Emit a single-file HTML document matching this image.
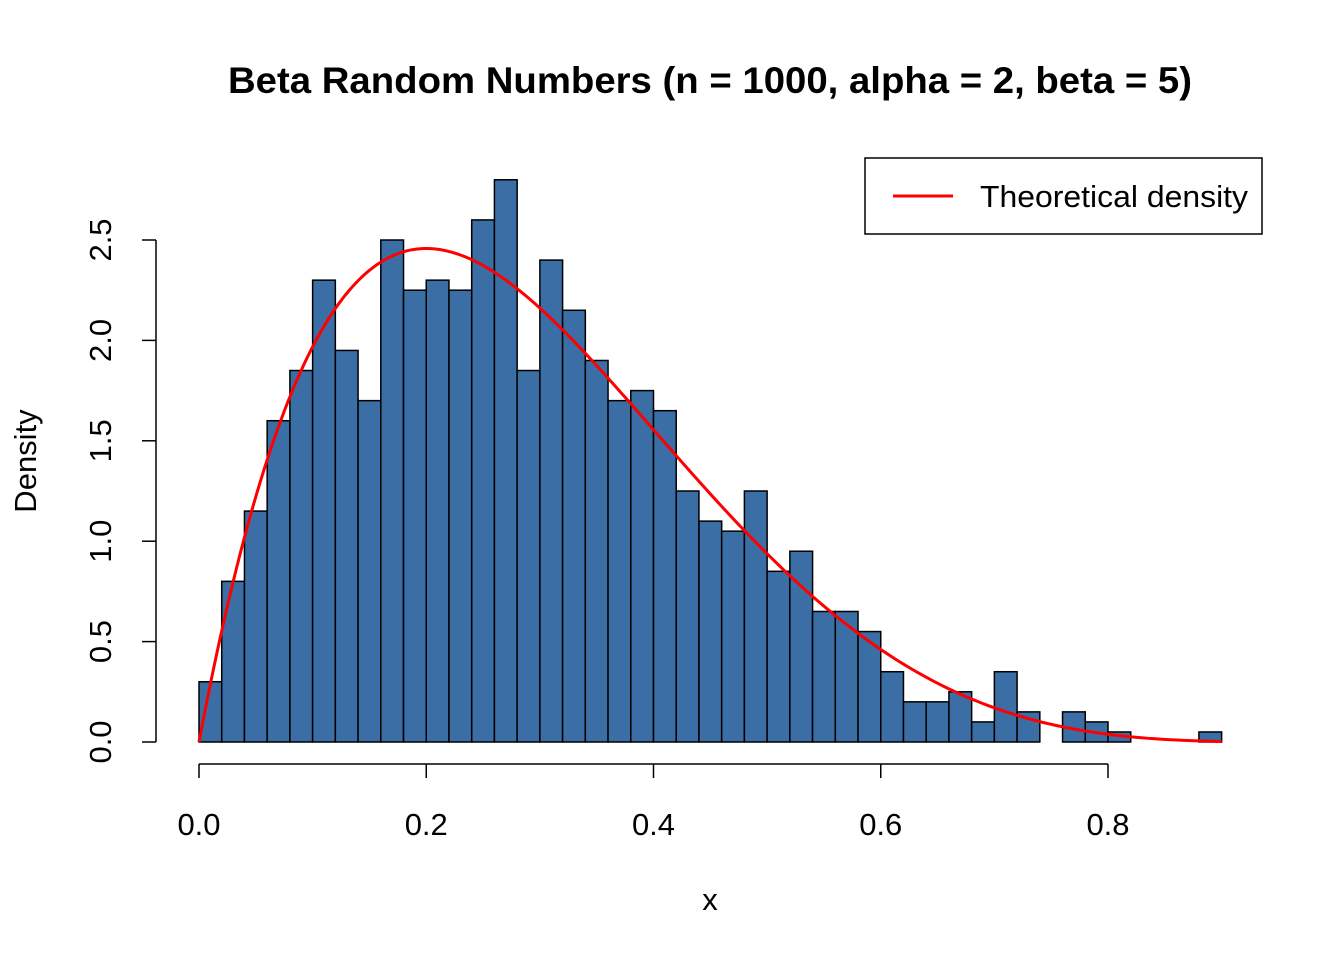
<!DOCTYPE html>
<html><head><meta charset="utf-8"><style>
html,body{margin:0;padding:0;background:#fff}
svg text{font-family:"Liberation Sans",Arial,sans-serif}
</style></head><body>
<svg id="s" width="1344" height="960" xmlns="http://www.w3.org/2000/svg">
<text x="228" y="93" font-size="37" font-weight="bold" textLength="964" lengthAdjust="spacingAndGlyphs">Beta Random Numbers (n = 1000, alpha = 2, beta = 5)</text>
<g id="bars" fill="#3a6ea5" stroke="#000" stroke-width="1.5"></g>
<polyline id="curve" fill="none" stroke="#ff0000" stroke-width="3" points=""/>
<g stroke="#000" stroke-width="1.5" fill="none">
<line x1="156" y1="742" x2="156" y2="240"/>
<line x1="142" y1="742" x2="156" y2="742"/>
<line x1="142" y1="641.6" x2="156" y2="641.6"/>
<line x1="142" y1="541.2" x2="156" y2="541.2"/>
<line x1="142" y1="440.8" x2="156" y2="440.8"/>
<line x1="142" y1="340.4" x2="156" y2="340.4"/>
<line x1="142" y1="240" x2="156" y2="240"/>
<line x1="199" y1="764" x2="1108" y2="764"/>
<line x1="199" y1="764" x2="199" y2="778"/>
<line x1="426.25" y1="764" x2="426.25" y2="778"/>
<line x1="653.5" y1="764" x2="653.5" y2="778"/>
<line x1="880.75" y1="764" x2="880.75" y2="778"/>
<line x1="1108" y1="764" x2="1108" y2="778"/>
<rect x="865" y="158" width="397" height="76"/>
</g>
<line x1="893" y1="196" x2="953" y2="196" stroke="#ff0000" stroke-width="3"/>
<text x="980" y="207" font-size="31" textLength="268" lengthAdjust="spacingAndGlyphs">Theoretical density</text>
<g font-size="31" text-anchor="middle">
<text x="199" y="835">0.0</text><text x="426.25" y="835">0.2</text><text x="653.5" y="835">0.4</text><text x="880.75" y="835">0.6</text><text x="1108" y="835">0.8</text>
<text x="710" y="910">x</text>
<text transform="translate(111,742) rotate(-90)">0.0</text>
<text transform="translate(111,641.6) rotate(-90)">0.5</text>
<text transform="translate(111,541.2) rotate(-90)">1.0</text>
<text transform="translate(111,440.8) rotate(-90)">1.5</text>
<text transform="translate(111,340.4) rotate(-90)">2.0</text>
<text transform="translate(111,240) rotate(-90)">2.5</text>
<text transform="translate(36,461) rotate(-90)">Density</text>
</g>
</svg>
<script>
var h=[0.3,0.8,1.15,1.6,1.85,2.3,1.95,1.7,2.5,2.25,2.3,2.25,2.6,2.8,1.85,2.4,2.15,1.9,1.7,1.75,1.65,1.25,1.1,1.05,1.25,0.85,0.95,0.65,0.65,0.55,0.35,0.2,0.2,0.25,0.1,0.35,0.15,0,0.15,0.1,0.05,0,0,0,0.05];
var X=function(v){return 199+v*1136.25},Y=function(v){return 742-v*200.8};
var g=document.getElementById('bars'),ns='http://www.w3.org/2000/svg';
h.forEach(function(v,i){var r=document.createElementNS(ns,'rect');r.setAttribute('x',X(i*0.02));r.setAttribute('width',22.725);r.setAttribute('y',Y(v));r.setAttribute('height',v*200.8);g.appendChild(r);});
var p=[];for(var i=0;i<=300;i++){var x=i*0.9/300;p.push(X(x).toFixed(2)+','+Y(30*x*Math.pow(1-x,4)).toFixed(2));}
document.getElementById('curve').setAttribute('points',p.join(' '));
</script>
</body></html>
